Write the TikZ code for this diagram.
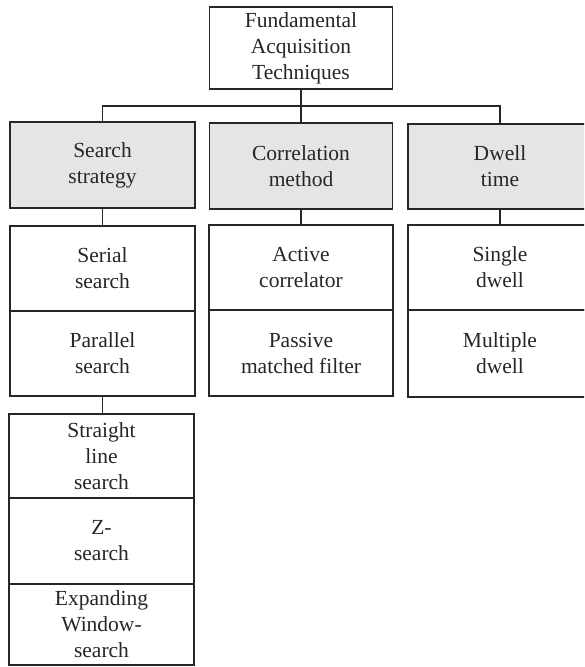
\documentclass[tikz,border=0pt]{standalone}
\usepackage{fontspec}
\setmainfont{Liberation Serif}
\begin{document}
\begin{tikzpicture}[x=1pt,y=-1pt,
  box/.style={draw=black!85, line width=1.3pt, align=center, inner sep=2pt, outer sep=0pt,
    text=black!85, font=\fontsize{21.5}{26}\selectfont, anchor=center},
  headbox/.style={box, fill=black!10},
  link/.style={draw=black!85, line width=1.3pt}]
\useasboundingbox (0,0) rectangle (584,667);
\begin{scope}
\clip (0,0) rectangle (584,667);
% root
\node[box, minimum width=183pt, minimum height=82pt] (top) at (301,48) {Fundamental\\Acquisition\\Techniques};
% second level
\node[headbox, minimum width=185pt, minimum height=86pt] (strat) at (102.5,165) {Search\\strategy};
\node[headbox, minimum width=183pt, minimum height=86pt] (corr) at (301,166) {Correlation\\method};
\node[headbox, minimum width=184pt, minimum height=85pt] (dwell) at (500,166.5) {Dwell\\time};
% search strategy column
\node[box, minimum width=185pt, minimum height=85pt] (serial) at (102.5,268.5) {Serial\\search};
\node[box, minimum width=185pt, minimum height=85pt] (parallel) at (102.5,353.5) {Parallel\\search};
\node[box, minimum width=185pt, minimum height=84pt] (straight) at (101.5,456) {Straight\\line\\search};
\node[box, minimum width=185pt, minimum height=86pt] (zsearch) at (101.5,541) {Z-\\search};
\node[box, minimum width=185pt, minimum height=81pt] (expand) at (101.5,624.5) {Expanding\\Window-\\search};
% correlation column
\node[box, minimum width=184pt, minimum height=85pt] (active) at (301,267.5) {Active\\correlator};
\node[box, minimum width=184pt, minimum height=86pt] (passive) at (301,353) {Passive\\matched filter};
% dwell column
\node[box, minimum width=184pt, minimum height=85pt] (single) at (500,267.5) {Single\\dwell};
\node[box, minimum width=184pt, minimum height=87pt] (multiple) at (500,353.5) {Multiple\\dwell};
% connectors
\coordinate (busL) at (102.5,106);
\coordinate (busR) at (500,106);
\draw[link] (top.south) -- (corr.north);
\draw[link] (strat.north) -- (busL) -- (busR) -- (dwell.north);
\draw[link] (strat.south) -- (serial.north);
\draw[link] (corr.south) -- (active.north);
\draw[link] (dwell.south) -- (single.north);
\draw[link] (parallel.south) -- (parallel.south |- straight.north);
\end{scope}
\end{tikzpicture}
\end{document}
